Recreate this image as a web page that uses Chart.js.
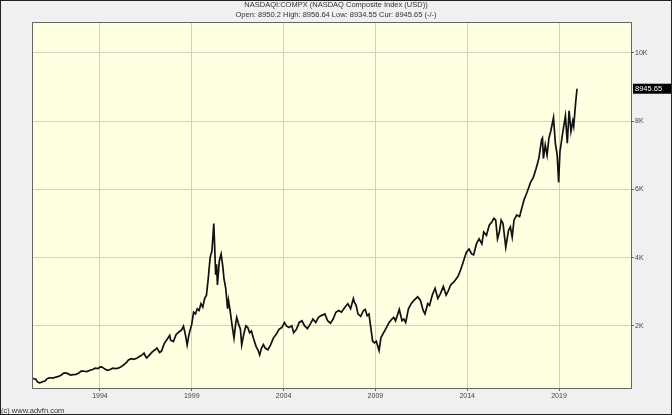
<!DOCTYPE html>
<html>
<head>
<meta charset="utf-8">
<script src="https://cdn.jsdelivr.net/npm/chart.js@4"></script>
<style>
  body { margin: 0; background: #f0f0f0; }
  canvas { display: block; }
</style>
</head>
<body>
<canvas id="chart" width="672" height="415"></canvas>
<script>
// index values (decimal year, close)
const years = [
  1990.30, 1990.40, 1990.50, 1990.60, 1990.70, 1990.80, 1990.90, 1991.00, 1991.10, 1991.20,
  1991.30, 1991.45, 1991.60, 1991.75, 1991.90, 1992.00, 1992.10, 1992.25, 1992.40, 1992.55,
  1992.70, 1992.85, 1993.00, 1993.15, 1993.30, 1993.45, 1993.60, 1993.75, 1993.90, 1994.00,
  1994.10, 1994.25, 1994.40, 1994.55, 1994.70, 1994.85, 1995.00, 1995.15, 1995.30, 1995.45,
  1995.55, 1995.70, 1995.85, 1996.00, 1996.15, 1996.30, 1996.40, 1996.50, 1996.55, 1996.70,
  1996.85, 1997.00, 1997.10, 1997.25, 1997.35, 1997.50, 1997.65, 1997.80, 1997.85, 1998.00,
  1998.15, 1998.30, 1998.45, 1998.55, 1998.65, 1998.75, 1998.85, 1999.00, 1999.10, 1999.20,
  1999.30, 1999.40, 1999.50, 1999.60, 1999.70, 1999.80, 1999.90, 2000.00, 2000.10, 2000.20,
  2000.25, 2000.30, 2000.35, 2000.40, 2000.50, 2000.60, 2000.70, 2000.75, 2000.85, 2000.95,
  2001.00, 2001.10, 2001.20, 2001.30, 2001.40, 2001.45, 2001.55, 2001.65, 2001.72, 2001.85,
  2001.95, 2002.05, 2002.15, 2002.25, 2002.35, 2002.50, 2002.60, 2002.70, 2002.80, 2002.90,
  2003.00, 2003.15, 2003.30, 2003.45, 2003.60, 2003.75, 2003.90, 2004.05, 2004.15, 2004.30,
  2004.45, 2004.55, 2004.70, 2004.85, 2005.00, 2005.15, 2005.30, 2005.45, 2005.60, 2005.75,
  2005.90, 2006.05, 2006.25, 2006.40, 2006.55, 2006.70, 2006.85, 2007.00, 2007.15, 2007.35,
  2007.50, 2007.65, 2007.80, 2007.85, 2007.95, 2008.05, 2008.20, 2008.35, 2008.45, 2008.55,
  2008.65, 2008.75, 2008.85, 2008.95, 2009.05, 2009.20, 2009.30, 2009.45, 2009.60, 2009.75,
  2009.90, 2010.00, 2010.10, 2010.30, 2010.45, 2010.55, 2010.65, 2010.80, 2010.95, 2011.10,
  2011.30, 2011.45, 2011.60, 2011.70, 2011.85, 2011.95, 2012.10, 2012.25, 2012.40, 2012.55,
  2012.70, 2012.85, 2012.95, 2013.10, 2013.30, 2013.50, 2013.65, 2013.80, 2013.95, 2014.10,
  2014.25, 2014.35, 2014.50, 2014.65, 2014.80, 2014.90, 2015.05, 2015.20, 2015.35, 2015.45,
  2015.55, 2015.65, 2015.75, 2015.85, 2015.95, 2016.10, 2016.25, 2016.35, 2016.45, 2016.55,
  2016.70, 2016.85, 2016.95, 2017.10, 2017.25, 2017.45, 2017.60, 2017.75, 2017.90, 2018.05,
  2018.10, 2018.15, 2018.25, 2018.35, 2018.45, 2018.55, 2018.70, 2018.80, 2018.90, 2018.98,
  2019.05, 2019.20, 2019.35, 2019.45, 2019.55, 2019.65, 2019.75, 2019.80, 2019.90, 2019.98
];
const closes = [
  466, 450, 440, 360, 330, 345, 370, 380, 440, 470,
  480, 470, 500, 520, 560, 610, 620, 600, 560, 570,
  580, 620, 680, 670, 660, 700, 720, 760, 750, 790,
  800, 740, 700, 720, 760, 750, 760, 800, 860, 930,
  1000, 1040, 1020, 1050, 1100, 1150, 1200, 1090, 1060, 1150,
  1240, 1300, 1350, 1220, 1260, 1480, 1600, 1720, 1580, 1540,
  1750, 1820, 1880, 1990, 1750, 1440, 1750, 2050, 2400, 2350,
  2500, 2450, 2650, 2550, 2800, 2900, 3400, 4000, 4200, 5000,
  4300, 3500, 3800, 3200, 3900, 4100, 3700, 3400, 3100, 2500,
  2750, 2400, 2000, 1640, 2100, 2250, 2050, 1900, 1440, 1800,
  2000, 1950, 1800, 1850, 1650, 1400, 1300, 1150, 1350, 1450,
  1350, 1300, 1450, 1650, 1750, 1900, 1950, 2100, 2000, 1950,
  2000, 1800, 1900, 2100, 2150, 2000, 1920, 2050, 2200, 2100,
  2250, 2300, 2350, 2150, 2080, 2200, 2400, 2450, 2400, 2550,
  2650, 2500, 2800, 2700, 2600, 2350, 2280, 2450, 2480, 2300,
  2350, 1950, 1550, 1500, 1550, 1280, 1650, 1800, 1950, 2100,
  2200, 2250, 2150, 2480, 2150, 2200, 2100, 2500, 2650, 2750,
  2850, 2750, 2450, 2350, 2650, 2600, 2900, 3100, 2800, 2950,
  3150, 2900, 3000, 3200, 3300, 3450, 3650, 3900, 4150, 4250,
  4100, 4080, 4400, 4550, 4400, 4750, 4650, 4950, 5050, 5150,
  5100, 4550, 4750, 5100, 5000, 4300, 4800, 4900, 4600, 5100,
  5250, 5200, 5400, 5700, 5900, 6200, 6350, 6600, 6900, 7450,
  7500, 6900, 7300, 7000, 7500, 7700, 8100, 7350, 7000, 6200,
  7100, 7650, 8150, 7350, 8300, 7700, 8000, 7850, 8500, 8945.65
];
const yearTicks = [1994, 1999, 2004, 2009, 2014, 2019];
const valueTicks = [2000, 4000, 6000, 8000, 10000];
const titleLines = [
  'NASDAQI:COMPX (NASDAQ Composite Index (USD))',
  'Open: 8950.2 High: 8956.64 Low: 8934.55 Cur: 8945.65 (-/-)'
];

const FONT = '"Liberation Sans", Arial, sans-serif';

const decor = {
  id: 'decor',
  beforeDraw(chart) {
    const { ctx, chartArea: a } = chart;
    ctx.save();
    ctx.fillStyle = '#f0f0f0';
    ctx.fillRect(0, 0, chart.width, chart.height);
    ctx.fillStyle = '#ffffe1';
    ctx.fillRect(a.left, a.top, a.right - a.left, a.bottom - a.top);
    ctx.restore();
  },
  afterDraw(chart) {
    const { ctx, chartArea: a } = chart;
    ctx.save();
    // plot frame
    ctx.strokeStyle = '#666';
    ctx.lineWidth = 1;
    ctx.strokeRect(a.left + 0.5, a.top + 0.5, a.right - a.left, a.bottom - a.top);
    // titles
    ctx.fillStyle = '#333';
    ctx.textAlign = 'center';
    ctx.textBaseline = 'middle';
    ctx.font = '7.5px ' + FONT;
    ctx.fillText(titleLines[0], 336, 5);
    ctx.fillText(titleLines[1], 336, 14.5);
    // copyright
    ctx.textAlign = 'left';
    ctx.fillText('(c) www.advfn.com', 1, 411);
    // current price tag
    const last = closes[closes.length - 1];
    const y = chart.scales.y.getPixelForValue(last);
    ctx.fillStyle = '#000';
    ctx.fillRect(633, y - 5, 39, 10);
    ctx.fillStyle = '#fff';
    ctx.fillText(last.toFixed(2), 635, y + 0.5);
    // outer frame
    ctx.strokeStyle = '#222';
    ctx.strokeRect(0.5, 0.5, chart.width - 1, chart.height - 1);
    ctx.restore();
  }
};

new Chart(document.getElementById('chart'), {
  type: 'line',
  data: {
    datasets: [{
      data: years.map((yr, i) => ({ x: yr, y: closes[i] })),
      borderColor: '#111',
      borderWidth: 1.7,
      pointRadius: 0,
      tension: 0,
    }],
  },
  options: {
    responsive: false,
    animation: false,
    layout: { padding: { left: 32, top: 22, right: 0, bottom: 0 } },
    plugins: {
      legend: { display: false },
      tooltip: { enabled: false },
    },
    scales: {
      x: {
        type: 'linear',
        min: 1990.3,
        max: 2022.92,
        afterBuildTicks: (scale) => { scale.ticks = yearTicks.map(v => ({ value: v })); },
        afterFit: (scale) => { scale.height = 27; },
        grid: { color: '#d3d1bc', tickLength: 3, tickColor: '#666' },
        border: { display: false },
        ticks: {
          color: '#444',
          font: { family: FONT, size: 7 },
          padding: 1,
          maxRotation: 0,
          callback: (v) => String(v),
        },
      },
      y: {
        position: 'right',
        min: 180,
        max: 10900,
        afterBuildTicks: (scale) => { scale.ticks = valueTicks.map(v => ({ value: v })); },
        afterFit: (scale) => { scale.width = 41; },
        grid: { color: '#d3d1bc', tickLength: 3, tickColor: '#666' },
        border: { display: false },
        ticks: {
          color: '#444',
          font: { family: FONT, size: 7 },
          padding: 1,
          callback: (v) => (v / 1000) + 'K',
        },
      },
    },
  },
  plugins: [decor],
});
</script>
</body>
</html>
